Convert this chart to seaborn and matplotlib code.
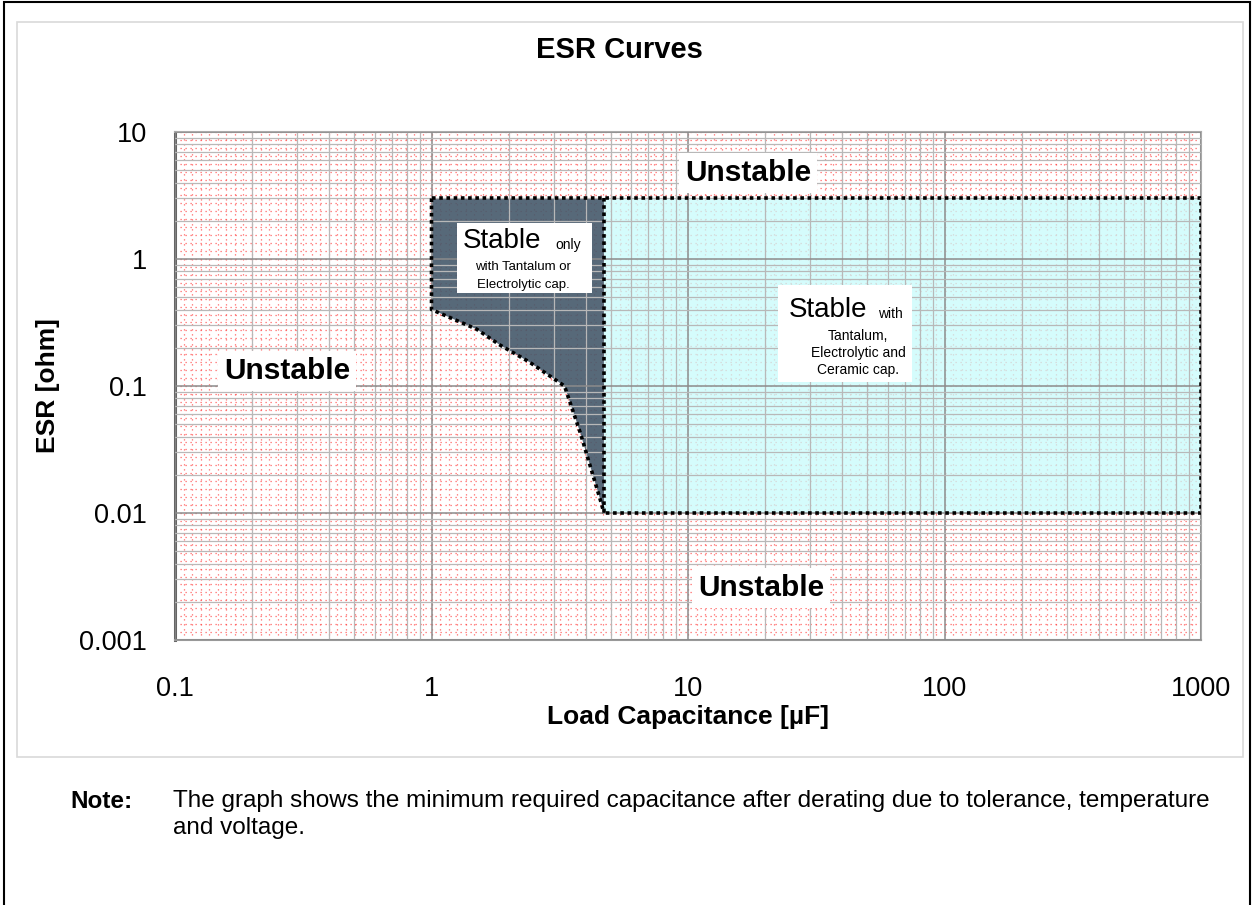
import numpy as np
import matplotlib
matplotlib.use("Agg")
import matplotlib.pyplot as plt
import matplotlib.ticker as mticker
from matplotlib.patches import Rectangle, Polygon
import seaborn as sns

# Data
cap_curve = [1.0, 1.0, 1.5, 1.85, 2.4, 3.3, 3.8, 4.6, 4.7]          # uF, left edge of tantalum region
esr_curve = [3.0, 0.4, 0.28, 0.21, 0.155, 0.1, 0.043, 0.0118, 0.01]  # ohm
cap_split = 4.7
cap_max = 1000
esr_top = 3.0
esr_bottom = 0.01

x_ticks = [0.1, 1, 10, 100, 1000]
x_labels = ["0.1", "1", "10", "100", "1000"]
y_ticks = [0.001, 0.01, 0.1, 1, 10]
y_labels = ["0.001", "0.01", "0.1", "1", "10"]

sns.set_theme(style="white")
plt.rcParams["font.family"] = ["Liberation Sans", "DejaVu Sans"]
plt.rcParams["text.color"] = "black"
plt.rcParams["axes.labelcolor"] = "black"
plt.rcParams["hatch.color"] = "#f4f8fb"
plt.rcParams["hatch.linewidth"] = 0.6

fig = plt.figure(figsize=(12.54, 9.05), dpi=100)
pos = [175 / 1254, 1 - 640 / 905, 1026 / 1254, 508 / 905]

# background axes carrying the fine red dotted pattern
ax_bg = fig.add_axes(pos, zorder=0)
ax_bg.set_xscale("log")
ax_bg.set_yscale("log")
ax_bg.set_xlim(0.1, 1000)
ax_bg.set_ylim(0.001, 10)
ax_bg.xaxis.set_major_locator(mticker.FixedLocator(np.logspace(-1, 3, 121)))
ax_bg.yaxis.set_major_locator(mticker.FixedLocator(np.logspace(-3, 1, 65)))
ax_bg.xaxis.set_minor_locator(mticker.NullLocator())
ax_bg.yaxis.set_minor_locator(mticker.NullLocator())
ax_bg.grid(True, color="#ff3333", linestyle=(0, (1, 3)), linewidth=0.9, alpha=0.75)
ax_bg.tick_params(left=False, bottom=False, labelleft=False, labelbottom=False)
for s in ax_bg.spines.values():
    s.set_visible(False)

ax = fig.add_axes(pos, zorder=1)
ax.patch.set_alpha(0)
ax.set_xscale("log")
ax.set_yscale("log")
ax.set_xlim(0.1, 1000)
ax.set_ylim(0.001, 10)

# cyan region: stable with all cap types
ax.add_patch(Polygon([(cap_split, esr_bottom), (cap_max, esr_bottom), (cap_max, esr_top), (cap_split, esr_top)],
                     closed=True, facecolor="#c8fbfb", alpha=0.75, edgecolor="none", zorder=1))
# dark region: tantalum / electrolytic only
poly = [(cap_curve[0], esr_curve[0]), (cap_split, esr_top)] + list(zip(cap_curve[::-1], esr_curve[::-1]))
ax.add_patch(Polygon(poly, closed=True, facecolor="#45596b", alpha=0.9, edgecolor="none",
                     hatch="++++", zorder=1.2))

# dotted outlines
line_kw = dict(sort=False, estimator=None, color="black", lw=2.6, linestyle=(0, (1, 1)), ax=ax, zorder=3)
sns.lineplot(x=cap_curve, y=esr_curve, **line_kw)
sns.lineplot(x=[cap_curve[0], cap_max, cap_max, cap_split], y=[esr_top, esr_top, esr_bottom, esr_bottom],
             **line_kw)
sns.lineplot(x=[cap_split, cap_split], y=[esr_top, esr_bottom], **line_kw)

ax.xaxis.set_major_locator(mticker.FixedLocator(x_ticks))
ax.xaxis.set_major_formatter(mticker.FixedFormatter(x_labels))
ax.yaxis.set_major_locator(mticker.FixedLocator(y_ticks))
ax.yaxis.set_major_formatter(mticker.FixedFormatter(y_labels))
ax.xaxis.set_minor_locator(mticker.LogLocator(base=10, subs=np.arange(2, 10), numticks=20))
ax.yaxis.set_minor_locator(mticker.LogLocator(base=10, subs=np.arange(2, 10), numticks=20))
ax.xaxis.set_minor_formatter(mticker.NullFormatter())
ax.yaxis.set_minor_formatter(mticker.NullFormatter())
ax.set_axisbelow(False)
ax.grid(True, which="major", color="#8c8c8c", linewidth=1.1, zorder=2)
ax.grid(True, which="minor", color="#b8b8b8", linewidth=0.9, zorder=2)
ax.tick_params(which="major", direction="out", length=9, width=1.2, color="#777777",
               labelsize=19.5, labelcolor="black")
ax.tick_params(axis="x", which="major", pad=17)
ax.tick_params(axis="y", which="major", pad=11)
ax.tick_params(which="minor", length=0)
for name, s in ax.spines.items():
    s.set_color("#aaaaaa")
    s.set_linewidth(1.5)
ax.spines["left"].set_color("#666666")
ax.spines["left"].set_linewidth(2.2)
ax.spines["bottom"].set_color("#999999")

ax.set_xlabel("Load Capacitance [µF]", fontsize=19, fontweight="bold", labelpad=2)
ax.set_ylabel("ESR [ohm]", fontsize=19, fontweight="bold")
ax.yaxis.set_label_coords((60 - 175) / 1026, 0.5)
fig.text(619 / 1254, 1 - 50 / 905, "ESR Curves", ha="center", va="center", fontsize=21, fontweight="bold")

# region labels
for xf, yf in [(748, 173), (287, 371), (761, 588)]:
    fig.text(xf / 1254, 1 - yf / 905, "Unstable", ha="center", va="center", fontsize=21.5,
             fontweight="bold", zorder=5,
             bbox=dict(facecolor="white", edgecolor="none", pad=4))

tr = ax.transAxes
ax.add_patch(Rectangle(((457 - 175) / 1026, (640 - 293) / 508), 135 / 1026, 70 / 508,
                       transform=tr, facecolor="white", edgecolor="none", zorder=4))
ax.add_patch(Rectangle(((778 - 175) / 1026, (640 - 382) / 508), 134 / 1026, 97 / 508,
                       transform=tr, facecolor="white", edgecolor="none", zorder=4))


def ftxt(px, py, s, size, ha="center"):
    fig.text(px / 1254, 1 - py / 905, s, ha=ha, va="center", fontsize=size, zorder=6)


ftxt(502, 241, "Stable", 20)
ftxt(568, 245, "only", 10)
ftxt(523, 267, "with Tantalum or", 9.5)
ftxt(523, 285, "Electrolytic cap.", 9.5)
ftxt(828, 310, "Stable", 20)
ftxt(890, 314, "with", 10)
ftxt(858, 336, "Tantalum,", 10)
ftxt(858, 353, "Electrolytic and", 10)
ftxt(858, 370, "Ceramic cap.", 10)

# note under the chart
fig.text(70 / 1254, 1 - 801 / 905, "Note:", ha="left", va="center", fontsize=17.5, fontweight="bold")
fig.text(173 / 1254, 1 - 801 / 905,
         "The graph shows the minimum required capacitance after derating due to tolerance, temperature",
         ha="left", va="center", fontsize=17.5)
fig.text(173 / 1254, 1 - 828 / 905, "and voltage.", ha="left", va="center", fontsize=17.5)

# frames
fig.patches.append(Rectangle((17 / 1254, 1 - 757 / 905), 1226 / 1254, 735 / 905, transform=fig.transFigure,
                             facecolor="none", edgecolor="#d9d9d9", linewidth=1.2, zorder=0))
fig.patches.append(Rectangle((4 / 1254, -0.01), 1246 / 1254, 1 - 2 / 905 + 0.01, transform=fig.transFigure,
                             facecolor="none", edgecolor="black", linewidth=1.5, zorder=0))

fig.savefig("out.png", dpi=100)
